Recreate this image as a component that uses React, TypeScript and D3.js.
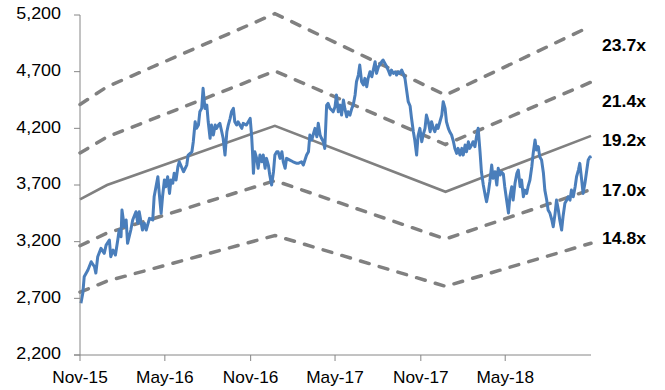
import React from "react";
import * as d3 from "d3";

// Index level series: day offsets from 2015-11-01 and closing values
const seriesStart = "2015-11-01";
const dayOffsets = [
  2, 6, 9, 17, 24, 31, 34, 38, 45, 52, 56, 63, 66, 71, 76, 81, 84, 88, 90, 95,
  99, 102, 109, 113, 120, 124, 127, 134, 138, 142, 149, 156, 159, 163, 167, 170, 174, 177, 181, 184,
  188, 192, 195, 199, 202, 206, 210, 213, 222, 229, 232, 240, 243, 247, 250, 254, 257, 261, 264, 268,
  272, 275, 279, 282, 286, 290, 293, 297, 300, 304, 307, 311, 315, 318, 322, 325, 329, 332, 336, 339,
  343, 347, 350, 357, 365, 368, 370, 372, 375, 379, 382, 386, 390, 393, 397, 400, 404, 407, 411, 415,
  418, 422, 425, 429, 433, 436, 440, 443, 450, 457, 465, 468, 475, 479, 486, 490, 493, 497, 500, 504,
  508, 511, 515, 518, 522, 525, 529, 532, 536, 540, 543, 547, 550, 554, 558, 561, 565, 568, 572, 575,
  579, 583, 586, 590, 593, 597, 600, 604, 608, 611, 615, 618, 622, 626, 629, 633, 636, 640, 643, 647,
  650, 654, 658, 661, 665, 668, 672, 676, 679, 683, 686, 690, 693, 697, 701, 704, 708, 711, 715, 718,
  722, 725, 729, 733, 736, 740, 743, 747, 751, 754, 758, 761, 765, 768, 772, 776, 779, 783, 786, 790,
  793, 797, 801, 804, 808, 811, 815, 819, 822, 826, 829, 833, 836, 840, 843, 847, 851, 854, 858, 861,
  865, 869, 872, 876, 879, 883, 886, 890, 894, 897, 901, 904, 908, 911, 915, 919, 922, 926, 929, 933,
  937, 940, 944, 947, 951, 954, 958, 961, 965, 969, 972, 976, 979, 983, 986, 990, 994, 997, 1001, 1004,
  1008, 1012, 1015, 1019, 1022, 1026, 1029, 1033, 1036, 1040, 1044, 1047, 1051, 1054, 1058, 1062, 1065, 1069, 1072, 1076,
  1079, 1083, 1087, 1090, 1094, 1095,
];
const indexValues = [
  2656, 2744, 2890, 2950, 3023, 2979, 2923, 3067, 3141, 3097, 3170, 3214, 3067, 3126, 3082, 3214, 3303, 3243, 3479, 3332,
  3391, 3185, 3303, 3391, 3464, 3362, 3464, 3303, 3362, 3303, 3406, 3391, 3596, 3685, 3773, 3626, 3450, 3596, 3744, 3685,
  3773, 3626, 3744, 3715, 3803, 3744, 3861, 3905, 3817, 3876, 3964, 3993, 4082, 4258, 4200, 4229, 4346, 4376, 4553, 4376,
  4405, 4258, 4112, 4229, 4141, 4229, 4200, 4229, 4244, 4170, 4112, 3964, 4170, 4229, 4288, 4346, 4376, 4258, 4229, 4258,
  4229, 4200, 4244, 4229, 4288, 4141, 3993, 3803, 3993, 3935, 3847, 3964, 3905, 3964, 3847, 3935, 3876, 3788, 3700, 3817,
  3964, 3993, 3993, 3935, 3993, 3905, 3847, 3935, 3920, 3905, 3891, 3891, 3905, 3876, 3964, 3993, 4141, 4097, 4141, 4200,
  4126, 4244, 4141, 4112, 4082, 4023, 4405, 4420, 4376, 4361, 4346, 4390, 4494, 4346, 4405, 4317, 4450, 4376, 4302, 4346,
  4317, 4376, 4405, 4494, 4611, 4670, 4758, 4611, 4582, 4641, 4567, 4641, 4699, 4655, 4714, 4788, 4685, 4743, 4758, 4788,
  4803, 4773, 4743, 4714, 4670, 4714, 4685, 4699, 4670, 4699, 4685, 4714, 4685, 4641, 4523, 4435, 4397, 4291, 4170, 4097,
  3964, 4132, 4200, 4082, 4141, 4200, 4317, 4258, 4170, 4258, 4200, 4170, 4229, 4200, 4258, 4317, 4435, 4376, 4258, 4200,
  4170, 4141, 4082, 4023, 3979, 4023, 3964, 4023, 3964, 4053, 3993, 4082, 4023, 4053, 4082, 4038, 4141, 4200, 3993, 3817,
  3700, 3611, 3552, 3640, 3729, 3876, 3759, 3817, 3700, 3847, 3788, 3814, 3797, 3685, 3567, 3453, 3596, 3685, 3567, 3715,
  3803, 3832, 3685, 3744, 3596, 3655, 3626, 3685, 3744, 3861, 3979, 4097, 4008, 4038, 3949, 3920, 3803, 3655, 3567, 3479,
  3450, 3391, 3332, 3450, 3567, 3479, 3391, 3303, 3420, 3538, 3567, 3596, 3567, 3655, 3596, 3685, 3773, 3832, 3891, 3744,
  3626, 3715, 3832, 3920, 3949, 3935,
];

// Forward EPS knots used for the P/E bands
const epsDates = ["2015-11-01", "2015-12-29", "2016-12-23", "2017-12-24", "2018-11-01"];
const epsValues = [186.1, 192.7, 219.9, 189.6, 215.3];

// P/E multiples for the band lines (mean is solid)
const multiples = [23.7, 21.4, 19.2, 17.0, 14.8];
const multipleLabels = ["23.7x", "21.4x", "19.2x", "17.0x", "14.8x"];

const yTicks = [2200, 2700, 3200, 3700, 4200, 4700, 5200];
const xTickDates = ["2015-11-01", "2016-05-01", "2016-11-01", "2017-05-01", "2017-11-01", "2018-05-01"];
const xTickLabels = ["Nov-15", "May-16", "Nov-16", "May-17", "Nov-17", "May-18"];
const xDomain = ["2015-11-01", "2018-11-01"];

const parse = d3.utcParse("%Y-%m-%d");

export default function App() {
  const width = 665;
  const height = 390;
  const left = 80;
  const right = 591;
  const top = 15;
  const bottom = 355;
  const labelShift = [21, 21, 6, 2, -3];

  const x = d3.scaleUtc().domain(xDomain.map((d) => parse(d) as Date)).range([left, right]);
  const y = d3.scaleLinear().domain([2200, 5200]).range([bottom, top]);

  const start = parse(seriesStart) as Date;
  const series = indexValues.map((v, i) => ({ date: d3.utcDay.offset(start, dayOffsets[i]), value: v }));
  const eps = epsDates.map((d, i) => ({ date: parse(d) as Date, eps: epsValues[i] }));

  const line = d3
    .line<{ date: Date; value: number }>()
    .x((d) => x(d.date))
    .y((d) => y(d.value));

  const axisColor = "#868686";
  const bandColor = "#808080";
  const font = "'Liberation Sans', Arial, sans-serif";

  return (
    <svg width={width} height={height} style={{ position: "absolute", left: 0, top: 0 }}>
      <rect width={width} height={height} fill="#fff" />
      {multiples.map((m, i) => {
        const pts = eps.map((e) => ({ date: e.date, value: e.eps * m }));
        const solid = i === 2;
        return (
          <path
            key={m}
            d={line(pts) || ""}
            fill="none"
            stroke={bandColor}
            strokeWidth={solid ? 2.6 : 3.5}
            strokeLinecap={solid ? "butt" : "round"}
            strokeDasharray={solid ? undefined : "9,10.5"}
          />
        );
      })}
      <path d={line(series) || ""} fill="none" stroke="#4A7EBB" strokeWidth={3} strokeLinejoin="round" />
      {multiples.map((m, i) => {
        const endVal = eps[eps.length - 1].eps * m;
        return (
          <text
            key={"l" + m}
            transform={`translate(602,${y(endVal) + labelShift[i]}) scale(1.1,1)`}
            fontFamily={font}
            fontWeight="bold"
            fontSize={16}
            fill="#000"
            dominantBaseline="middle"
          >
            {multipleLabels[i]}
          </text>
        );
      })}
      <line x1={left} x2={left} y1={top} y2={bottom} stroke={axisColor} strokeWidth={1} />
      {yTicks.map((t) => (
        <g key={t}>
          <line x1={left - 6} x2={left} y1={y(t)} y2={y(t)} stroke={axisColor} />
          <text
            transform={`translate(61,${y(t)}) scale(1.12,1)`}
            textAnchor="end"
            dominantBaseline="middle"
            fontFamily={font}
            fontSize={16}
            fill="#000"
          >
            {d3.format(",")(t)}
          </text>
        </g>
      ))}
      <line x1={left - 6} x2={right} y1={bottom} y2={bottom} stroke={axisColor} strokeWidth={1} />
      {xTickDates.map((d, i) => {
        const xx = x(parse(d) as Date);
        return (
          <g key={d}>
            <line x1={xx} x2={xx} y1={bottom} y2={bottom + 6} stroke={axisColor} />
            <text
              transform={`translate(${xx},383) scale(1.08,1)`}
              textAnchor="middle"
              fontFamily={font}
              fontSize={16}
              fill="#000"
            >
              {xTickLabels[i]}
            </text>
          </g>
        );
      })}
    </svg>
  );
}
